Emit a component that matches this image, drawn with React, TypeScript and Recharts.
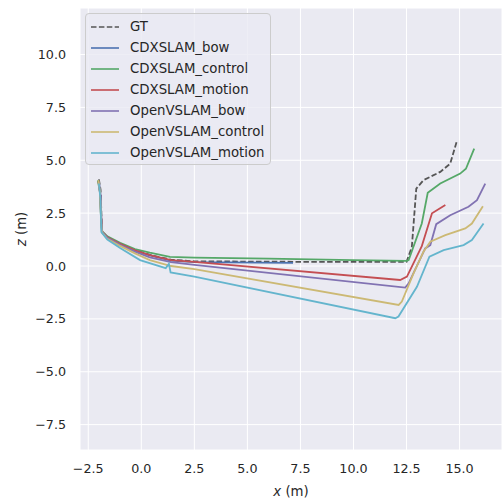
import { CartesianGrid, Line, LineChart, XAxis, YAxis } from "recharts";

type Pt = { x: number; z: number };

const X_TICKS = [-2.5, 0, 2.5, 5, 7.5, 10, 12.5, 15];
const Y_TICKS = [-7.5, -5, -2.5, 0, 2.5, 5, 7.5, 10];

const GT: Pt[] = [
  { x: -2.0, z: 4.1 }, { x: -1.92, z: 3.6 }, { x: -1.88, z: 2.4 }, { x: -1.85, z: 1.6 },
  { x: -1.6, z: 1.35 }, { x: -1.0, z: 1.05 }, { x: -0.3, z: 0.75 }, { x: 0.5, z: 0.5 },
  { x: 1.4, z: 0.3 }, { x: 2.5, z: 0.22 }, { x: 7.2, z: 0.2 }, { x: 12.5, z: 0.2 },
  { x: 12.75, z: 0.9 }, { x: 12.96, z: 3.66 }, { x: 13.3, z: 4.06 }, { x: 14.09, z: 4.45 },
  { x: 14.56, z: 4.84 }, { x: 14.88, z: 5.94 },
];

const CDX_BOW: Pt[] = [
  { x: -2.0, z: 4.0 }, { x: -1.93, z: 3.4 }, { x: -1.9, z: 2.2 }, { x: -1.86, z: 1.6 },
  { x: -1.6, z: 1.35 }, { x: -1.0, z: 1.02 }, { x: -0.3, z: 0.72 }, { x: 0.5, z: 0.48 },
  { x: 1.4, z: 0.25 }, { x: 2.5, z: 0.18 }, { x: 7.15, z: 0.15 },
];

const CDX_CONTROL: Pt[] = [
  { x: -2.05, z: 4.05 }, { x: -1.95, z: 3.5 }, { x: -1.9, z: 2.3 }, { x: -1.85, z: 1.65 },
  { x: -1.6, z: 1.4 }, { x: -1.0, z: 1.1 }, { x: -0.3, z: 0.8 }, { x: 0.4, z: 0.63 },
  { x: 1.35, z: 0.43 }, { x: 2.5, z: 0.4 }, { x: 6, z: 0.35 }, { x: 10, z: 0.28 },
  { x: 12.5, z: 0.24 }, { x: 12.6, z: 0.28 }, { x: 13.22, z: 2.01 }, { x: 13.5, z: 3.46 },
  { x: 14.09, z: 3.9 }, { x: 15.03, z: 4.37 }, { x: 15.3, z: 4.6 }, { x: 15.69, z: 5.55 },
];

const CDX_MOTION: Pt[] = [
  { x: -2.02, z: 4.0 }, { x: -1.94, z: 3.4 }, { x: -1.89, z: 2.3 }, { x: -1.85, z: 1.62 },
  { x: -1.6, z: 1.36 }, { x: -1.0, z: 1.05 }, { x: -0.3, z: 0.74 }, { x: 0.4, z: 0.52 },
  { x: 1.4, z: 0.28 }, { x: 2.5, z: 0.2 }, { x: 12.2, z: -0.66 }, { x: 12.52, z: -0.5 },
  { x: 13.22, z: 0.94 }, { x: 13.7, z: 2.49 }, { x: 14.33, z: 2.88 },
];

const OV_BOW: Pt[] = [
  { x: -2.0, z: 3.95 }, { x: -1.92, z: 3.3 }, { x: -1.88, z: 2.2 }, { x: -1.84, z: 1.6 },
  { x: -1.6, z: 1.33 }, { x: -1.0, z: 1.0 }, { x: -0.3, z: 0.68 }, { x: 0.4, z: 0.41 },
  { x: 1.4, z: 0.18 }, { x: 2.5, z: 0.05 }, { x: 12.44, z: -1.02 }, { x: 12.6, z: -0.82 },
  { x: 13.38, z: 0.83 }, { x: 13.62, z: 0.99 }, { x: 13.9, z: 1.98 }, { x: 14.56, z: 2.4 },
  { x: 15.42, z: 2.8 }, { x: 15.82, z: 3.11 }, { x: 16.21, z: 3.9 },
];

const OV_CONTROL: Pt[] = [
  { x: -2.02, z: 4.06 }, { x: -1.95, z: 3.5 }, { x: -1.9, z: 2.3 }, { x: -1.86, z: 1.6 },
  { x: -1.62, z: 1.3 }, { x: -1.0, z: 0.95 }, { x: -0.3, z: 0.6 }, { x: 0.4, z: 0.28 },
  { x: 1.4, z: 0.0 }, { x: 2.5, z: -0.15 }, { x: 12.13, z: -1.84 }, { x: 12.28, z: -1.68 },
  { x: 12.83, z: -0.35 }, { x: 13.3, z: 0.68 }, { x: 13.62, z: 1.15 }, { x: 14.33, z: 1.46 },
  { x: 15.27, z: 1.78 }, { x: 15.58, z: 2.01 }, { x: 16.1, z: 2.83 },
];

const OV_MOTION: Pt[] = [
  { x: -2.0, z: 3.9 }, { x: -1.93, z: 3.2 }, { x: -1.9, z: 2.2 }, { x: -1.88, z: 1.6 },
  { x: -1.6, z: 1.25 }, { x: -1.0, z: 0.85 }, { x: -0.06, z: 0.28 }, { x: 1.15, z: -0.1 },
  { x: 1.3, z: 0.1 }, { x: 1.38, z: -0.3 }, { x: 2.5, z: -0.5 }, { x: 11.97, z: -2.47 },
  { x: 12.12, z: -2.39 }, { x: 12.99, z: -0.98 }, { x: 13.58, z: 0.44 }, { x: 14.25, z: 0.75 },
  { x: 15.19, z: 0.99 }, { x: 15.58, z: 1.23 }, { x: 16.13, z: 2.01 },
];

const SERIES = [
  { name: "GT", data: GT, color: "#555555", dash: "5.5 2.4" },
  { name: "CDXSLAM_bow", data: CDX_BOW, color: "#4C72B0" },
  { name: "CDXSLAM_control", data: CDX_CONTROL, color: "#55A868" },
  { name: "CDXSLAM_motion", data: CDX_MOTION, color: "#C44E52" },
  { name: "OpenVSLAM_bow", data: OV_BOW, color: "#8172B2" },
  { name: "OpenVSLAM_control", data: OV_CONTROL, color: "#CCB974" },
  { name: "OpenVSLAM_motion", data: OV_MOTION, color: "#64B5CD" },
];

const FONT = "'DejaVu Sans', sans-serif";
const INK = "#262626";

const fmt = (v: number) => v.toFixed(1).replace("-", "\u2212");

function XLabel({ viewBox }: any) {
  const { x, width } = viewBox;
  return (
    <text x={x + width / 2} y={496} textAnchor="middle" fontFamily={FONT} fontSize={13.3} fill={INK}>
      <tspan fontStyle="italic">x</tspan> (m)
    </text>
  );
}

function YLabel() {
  return (
    <text
      x={0} y={0} transform="translate(26 229) rotate(-90)"
      textAnchor="middle" fontFamily={FONT} fontSize={13.3} fill={INK}
    >
      <tspan fontStyle="italic">z</tspan> (m)
    </text>
  );
}

function LegendBox() {
  return (
    <div
      style={{
        position: "absolute", left: 85, top: 13, width: 184, padding: "2px 0 1px",
        background: "rgba(234,234,242,0.8)", border: "1px solid #cccccc", borderRadius: 4,
        fontFamily: FONT, fontSize: 13.3, color: INK,
      }}
    >
      {SERIES.map((s) => (
        <div key={s.name} style={{ display: "flex", alignItems: "center", height: 21 }}>
          <svg width={40} height={10} style={{ marginLeft: 4, flex: "none" }}>
            <line x1={1} y1={5} x2={29} y2={5} stroke={s.color} strokeWidth={1.6} strokeDasharray={s.dash} />
          </svg>
          <span>{s.name}</span>
        </div>
      ))}
    </div>
  );
}

export default function App() {
  return (
    <div style={{ position: "absolute", left: 0, top: 0, width: 502, height: 498, background: "#fff" }}>
      <LineChart width={502} height={498} margin={{ top: 8, right: 0, left: 0, bottom: 0 }}>
        <CartesianGrid fill="#EAEAF2" stroke="#ffffff" strokeWidth={1} />
        <XAxis
          type="number" dataKey="x" domain={[-2.89, 17.0]} ticks={X_TICKS}
          allowDataOverflow tickFormatter={fmt} height={48}
          axisLine={false} tickLine={false} tickSize={0} tickMargin={14}
          tick={{ fontFamily: FONT, fontSize: 12.7, fill: INK }}
          label={<XLabel />}
        />
        <YAxis
          type="number" dataKey="z" domain={[-8.7, 12.2]} ticks={Y_TICKS}
          allowDataOverflow tickFormatter={fmt} width={80}
          axisLine={false} tickLine={false} tickSize={0} tickMargin={14}
          tick={{ fontFamily: FONT, fontSize: 12.7, fill: INK }}
          label={<YLabel />}
        />
        {SERIES.map((s) => (
          <Line
            key={s.name} data={s.data} dataKey="z" name={s.name} type="linear"
            stroke={s.color} strokeWidth={1.8} strokeDasharray={s.dash}
            dot={false} activeDot={false} isAnimationActive={false}
          />
        ))}
      </LineChart>
      <LegendBox />
    </div>
  );
}
